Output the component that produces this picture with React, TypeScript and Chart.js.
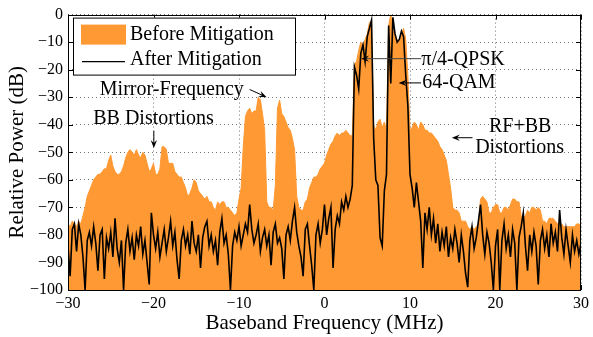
import React, { useEffect, useRef } from 'react';
import { Chart, registerables } from 'chart.js';

Chart.register(...registerables);

// ---------- data ----------
const F_START = -30;
const F_STEP = 0.25;

// Relative power (dB) before mitigation, sampled every 0.25 MHz from -30 to 30 MHz
const beforeMitigation = [
  -76, -77, -75, -76, -77, -75, -76, -73, -70, -66, -64, -62, -60, -59, -58, -58, -57, -56, -56, -53,
  -51, -55, -57, -58, -58, -57, -55, -52, -50, -49, -50, -51, -49, -51, -52, -50, -51, -54, -57, -56,
  -54, -58, -58, -56, -48, -48, -49, -54, -54, -54, -57, -58, -59, -59, -61, -63, -66, -65, -63, -60,
  -61, -64, -65, -66, -67, -66, -68, -68, -70, -71, -68, -69, -68, -68, -70, -70, -71, -72, -73, -72,
  -67, -63, -48, -37, -35, -34, -36, -35, -35, -30, -31, -36, -42, -68, -70, -70, -71, -62, -34, -31,
  -36, -37, -39, -41, -42, -45, -49, -66, -70, -71, -71, -68, -67, -63, -61, -59, -59, -58, -56, -55,
  -54, -51, -49, -47, -46, -44, -43, -44, -43, -43, -42, -43, -44, -44, -18, -17, -13, -10, -11, -9,
  -7, -3, -2, -40, -42, -39, -38, -41, -39, -42, -4, 0, -4, -8, -9, -10, -7, -5, -9, -22,
  -42, -41, -39, -40, -42, -39, -40, -42, -42, -43, -43, -44, -45, -46, -48, -49, -51, -53, -58, -63,
  -70, -71, -71, -72, -75, -75, -75, -77, -78, -77, -78, -77, -76, -67, -66, -67, -68, -72, -72, -70,
  -69, -69, -72, -72, -70, -70, -71, -69, -67, -67, -68, -68, -73, -74, -73, -71, -72, -70, -70, -71,
  -70, -71, -75, -75, -76, -74, -74, -74, -75, -76, -76, -76, -77, -77, -77, -77, -77, -77, -76, -76, -77,
];

// Relative power (dB) after mitigation, same sampling
const afterMitigation = [
  -84, -95, -78, -76, -86, -76, -80, -88, -100, -82, -79, -84, -77, -83, -93, -80, -78, -96, -81, -85,
  -79, -88, -74, -85, -90, -82, -100, -83, -78, -86, -81, -89, -80, -84, -77, -87, -82, -90, -98, -72,
  -80, -85, -79, -88, -83, -78, -86, -81, -75, -84, -79, -89, -96, -82, -78, -84, -80, -87, -75, -83,
  -86, -80, -92, -81, -77, -75, -84, -80, -86, -82, -91, -79, -74, -83, -80, -87, -100, -84, -79, -82,
  -77, -84, -80, -76, -79, -69, -78, -83, -80, -76, -86, -81, -78, -84, -80, -91, -79, -76, -83, -81,
  -85, -96, -80, -77, -82, -75, -70, -79, -84, -88, -95, -78, -76, -84, -91, -100, -80, -76, -83, -78,
  -69, -80, -74, -70, -92, -78, -73, -76, -68, -71, -66, -70, -67, -62, -19, -22, -27, -14, -11, -17,
  -8, -5, -2, -45, -60, -62, -81, -84, -64, -58, -4, -25, -1, -7, -10, -9, -6, -8, -22, -33,
  -58, -63, -70, -61, -68, -75, -92, -72, -78, -70, -80, -74, -83, -76, -86, -79, -84, -77, -88, -81,
  -85, -78, -83, -90, -80, -86, -94, -99, -82, -77, -85, -81, -75, -69, -80, -87, -79, -83, -90, -100,
  -84, -78, -100, -82, -76, -85, -80, -88, -78, -83, -100, -81, -77, -72, -84, -93, -80, -86, -79, -84,
  -98, -82, -78, -85, -80, -88, -76, -83, -79, -86, -71, -81, -87, -78, -84, -90, -80, -86, -82, -87, -83,
];

const xTicks = [-30, -20, -10, 0, 10, 20, 30];
const yTicks = [0, -10, -20, -30, -40, -50, -60, -70, -80, -90, -100];
const seriesLabels = ['Before Mitigation', 'After Mitigation'];
const xTitle = 'Baseband Frequency (MHz)';
const yTitle = 'Relative Power (dB)';

// annotation texts (data coordinates: f in MHz, baseline in dB)
const noteTexts = [
  { text: 'Mirror-Frequency', f: -17.86, db: -29.2, align: 'center' },
  { text: 'BB Distortions', f: -20.0, db: -39.8, align: 'center' },
  { text: '\u03c0/4-QPSK', f: 11.32, db: -18.2, align: 'left' },
  { text: '64-QAM', f: 11.44, db: -26.8, align: 'left' },
  { text: 'RF+BB', f: 22.88, db: -42.5, align: 'center' },
  { text: 'Distortions', f: 22.82, db: -50.4, align: 'center' },
];
// arrows: tail -> tip (data coordinates)
const noteArrows = [
  { f0: -8.75, d0: -27.2, f1: -6.77, d1: -30.0, color: '#000' },
  { f0: -19.96, d0: -42.2, f1: -19.96, d1: -48.4, color: '#000' },
  { f0: 11.29, d0: -16.0, f1: 4.28, d1: -16.0, color: '#444' },
  { f0: 11.29, d0: -24.8, f1: 8.67, d1: -24.8, color: '#000' },
  { f0: 17.31, d0: -44.7, f1: 14.9, d1: -44.7, color: '#000' },
];

const ORANGE = 'rgb(255,153,51)';
const SERIF = "'Liberation Serif', 'Times New Roman', serif";

const fmt = (v: number) => (v < 0 ? '\u2212' + Math.abs(v) : String(v));

const decorPlugin = {
  id: 'decor',
  beforeDatasetsDraw(chart: any) {
    const { ctx, chartArea: a, scales } = chart;
    ctx.save();
    ctx.strokeStyle = '#000';
    ctx.lineWidth = 1;
    ctx.beginPath();
    xTicks.forEach((v) => {
      const px = Math.round(scales.x.getPixelForValue(v)) + 0.5;
      ctx.moveTo(px, a.top);
      ctx.lineTo(px, a.top + 5);
      ctx.moveTo(px, a.bottom);
      ctx.lineTo(px, a.bottom - 5);
    });
    yTicks.forEach((v) => {
      const py = Math.round(scales.y.getPixelForValue(v)) + 0.5;
      ctx.moveTo(a.left, py);
      ctx.lineTo(a.left + 5, py);
      ctx.moveTo(a.right, py);
      ctx.lineTo(a.right - 5, py);
    });
    ctx.stroke();
    ctx.restore();
  },
  afterDatasetsDraw(chart: any) {
    const { ctx, chartArea: a } = chart;
    ctx.save();
    ctx.strokeStyle = '#000';
    ctx.lineWidth = 1;
    ctx.strokeRect(Math.round(a.left) + 0.5, Math.round(a.top) + 0.5, Math.round(a.right - a.left) - 1, Math.round(a.bottom - a.top));
    ctx.restore();
  },
  afterDraw(chart: any) {
    const { ctx, chartArea: a, scales } = chart;
    const X = (f: number) => scales.x.getPixelForValue(f);
    const Y = (d: number) => scales.y.getPixelForValue(d);
    ctx.save();
    // legend
    const lx = a.left + 5;
    const ly = a.top + 3;
    ctx.fillStyle = '#fff';
    ctx.fillRect(lx, ly, 222, 57);
    ctx.strokeStyle = '#000';
    ctx.lineWidth = 1;
    ctx.strokeRect(lx + 0.5, ly + 0.5, 222, 57);
    ctx.fillStyle = ORANGE;
    ctx.fillRect(lx + 8, ly + 7, 45, 20);
    ctx.beginPath();
    ctx.strokeStyle = '#000';
    ctx.lineWidth = 1.2;
    ctx.moveTo(lx + 9, ly + 44);
    ctx.lineTo(lx + 52, ly + 44);
    ctx.stroke();
    ctx.fillStyle = '#000';
    ctx.font = `20px ${SERIF}`;
    ctx.textBaseline = 'alphabetic';
    ctx.textAlign = 'left';
    ctx.fillText(seriesLabels[0], lx + 57, ly + 22.5);
    ctx.fillText(seriesLabels[1], lx + 57, ly + 47.5);

    // annotation texts
    noteTexts.forEach((n) => {
      ctx.textAlign = n.align as CanvasTextAlign;
      ctx.fillText(n.text, X(n.f), Y(n.db));
    });
    // arrows
    noteArrows.forEach((ar) => {
      const x0 = X(ar.f0), y0 = Y(ar.d0), x1 = X(ar.f1), y1 = Y(ar.d1);
      const ang = Math.atan2(y1 - y0, x1 - x0);
      const L = 8, W = 3.2;
      ctx.strokeStyle = ar.color;
      ctx.fillStyle = '#000';
      ctx.lineWidth = 1;
      ctx.beginPath();
      ctx.moveTo(x0, y0);
      ctx.lineTo(x1 - Math.cos(ang) * 4, y1 - Math.sin(ang) * 4);
      ctx.stroke();
      ctx.beginPath();
      ctx.moveTo(x1, y1);
      ctx.lineTo(x1 - L * Math.cos(ang) + W * Math.sin(ang), y1 - L * Math.sin(ang) - W * Math.cos(ang));
      ctx.lineTo(x1 - 5 * Math.cos(ang), y1 - 5 * Math.sin(ang));
      ctx.lineTo(x1 - L * Math.cos(ang) - W * Math.sin(ang), y1 - L * Math.sin(ang) + W * Math.cos(ang));
      ctx.closePath();
      ctx.fill();
    });
    ctx.restore();
  },
};

export default function App() {
  const ref = useRef<HTMLCanvasElement | null>(null);
  useEffect(() => {
    if (!ref.current) return;
    const toPts = (arr: number[]) => arr.map((v, i) => ({ x: F_START + i * F_STEP, y: v }));
    const chart = new Chart(ref.current, {
      type: 'line',
      data: {
        datasets: [
          {
            label: seriesLabels[0],
            data: toPts(beforeMitigation),
            borderColor: ORANGE,
            backgroundColor: ORANGE,
            borderWidth: 1,
            pointRadius: 0,
            fill: 'start',
            tension: 0,
            order: 2,
          },
          {
            label: seriesLabels[1],
            data: toPts(afterMitigation),
            borderColor: '#000',
            borderWidth: 1.6,
            pointRadius: 0,
            fill: false,
            tension: 0,
            order: 1,
          },
        ],
      },
      options: {
        responsive: false,
        animation: false,
        devicePixelRatio: 1,
        layout: { padding: { left: 0, right: 11, top: 13, bottom: 0 } },
        plugins: { legend: { display: false }, tooltip: { enabled: false } },
        scales: {
          x: {
            type: 'linear',
            min: -30,
            max: 30,
            afterFit: (s: any) => { s.height = 47; },
            afterBuildTicks: (s: any) => { s.ticks = xTicks.map((v) => ({ value: v })); },
            ticks: {
              callback: (v: any) => fmt(Number(v)),
              font: { family: SERIF, size: 16 },
              color: '#000',
              padding: 4,
              maxRotation: 0,
            },
            grid: { color: 'rgba(0,0,0,0.55)', lineWidth: 1, drawTicks: false },
            border: { display: false, dash: [1, 3] },
            title: {
              display: true,
              text: xTitle,
              font: { family: SERIF, size: 21 },
              color: '#000',
              padding: { top: 0, bottom: 1 },
            },
          },
          y: {
            type: 'linear',
            min: -100,
            max: 0,
            afterFit: (s: any) => { s.width = 68; },
            afterBuildTicks: (s: any) => { s.ticks = yTicks.map((v) => ({ value: v })); },
            ticks: {
              callback: (v: any) => fmt(Number(v)),
              font: { family: SERIF, size: 16 },
              color: '#000',
              padding: 5,
            },
            grid: { color: 'rgba(0,0,0,0.55)', lineWidth: 1, drawTicks: false },
            border: { display: false, dash: [1, 3] },
            title: {
              display: true,
              text: yTitle,
              font: { family: SERIF, size: 21 },
              color: '#000',
              padding: { top: 5, bottom: 0 },
            },
          },
        },
      },
      plugins: [decorPlugin],
    } as any);
    return () => chart.destroy();
  }, []);
  return (
    <div style={{ position: 'absolute', left: 0, top: 0, width: 593, height: 337, background: '#fff' }}>
      <canvas ref={ref} width={593} height={337} style={{ width: 593, height: 337, display: 'block' }} />
    </div>
  );
}
